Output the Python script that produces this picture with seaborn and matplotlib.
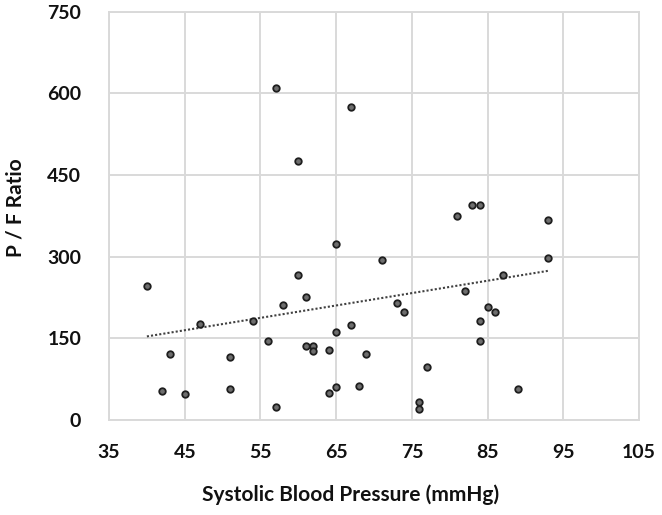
import matplotlib
matplotlib.use("Agg")
import matplotlib.pyplot as plt
import seaborn as sns
import pandas as pd

sbp = [57, 67, 60, 65, 71, 40, 60, 61, 58, 47, 54, 67, 65, 56, 61, 62, 62, 64, 69, 43,
       51, 42, 45, 51, 65, 64, 68, 57, 83, 84, 81, 93, 93, 87, 82, 73, 74, 85, 86, 84,
       84, 77, 76, 76, 89]
pf = [610, 575, 475, 323, 294, 247, 266, 226, 212, 176, 181, 175, 162, 146, 135, 136, 126, 128, 121, 121,
      116, 53, 48, 57, 61, 50, 62, 23, 395, 394, 374, 367, 297, 266, 237, 214, 198, 207, 198, 181,
      145, 97, 33, 20, 56]
# linear trendline as shown in the chart (endpoints)
trend_sbp = [40, 93]
trend_pf = [153.5, 274]
x_ticks = [35, 45, 55, 65, 75, 85, 95, 105]
y_ticks = [0, 150, 300, 450, 600, 750]

df = pd.DataFrame({"sbp": sbp, "pf": pf})
trend = pd.DataFrame({"sbp": trend_sbp, "pf": trend_pf})

sns.set_theme(style="whitegrid")
plt.rcParams["font.family"] = ["Lato", "DejaVu Sans"]

fig = plt.figure(figsize=(6.62, 5.15), dpi=100)
ax = fig.add_axes([0.1647, 0.1845, 0.8006, 0.7928])

grid_c = "#d9d9d9"
sns.lineplot(data=trend, x="sbp", y="pf", ax=ax, color="#404040",
             linestyle=(0, (1, 1)), linewidth=1.5, zorder=2)
sns.scatterplot(data=df, x="sbp", y="pf", ax=ax, s=22, color="#6e6e6e",
                edgecolor="#1e1e1e", linewidth=1.3, zorder=3)

ax.set_xlim(35, 105)
ax.set_ylim(0, 750)
ax.set_xticks(x_ticks)
ax.set_yticks(y_ticks)
ax.grid(True, color=grid_c, linewidth=1.4)
for s in ax.spines.values():
    s.set_color(grid_c)
    s.set_linewidth(1.4)
ax.tick_params(axis="both", length=0, labelsize=14, labelcolor="#111111")
ax.tick_params(axis="x", pad=17)
ax.tick_params(axis="y", pad=20)
for lab in ax.get_xticklabels() + ax.get_yticklabels():
    lab.set_fontweight("bold")
ax.set_xlabel("Systolic Blood Pressure (mmHg)", fontsize=15, fontweight="bold", color="#111111")
ax.set_ylabel("P / F Ratio", fontsize=15, fontweight="bold", color="#111111")
ax.xaxis.set_label_coords(0.455, -0.157)
ax.yaxis.set_label_coords(-0.157, 0.52)

fig.savefig("out.png", dpi=100)
